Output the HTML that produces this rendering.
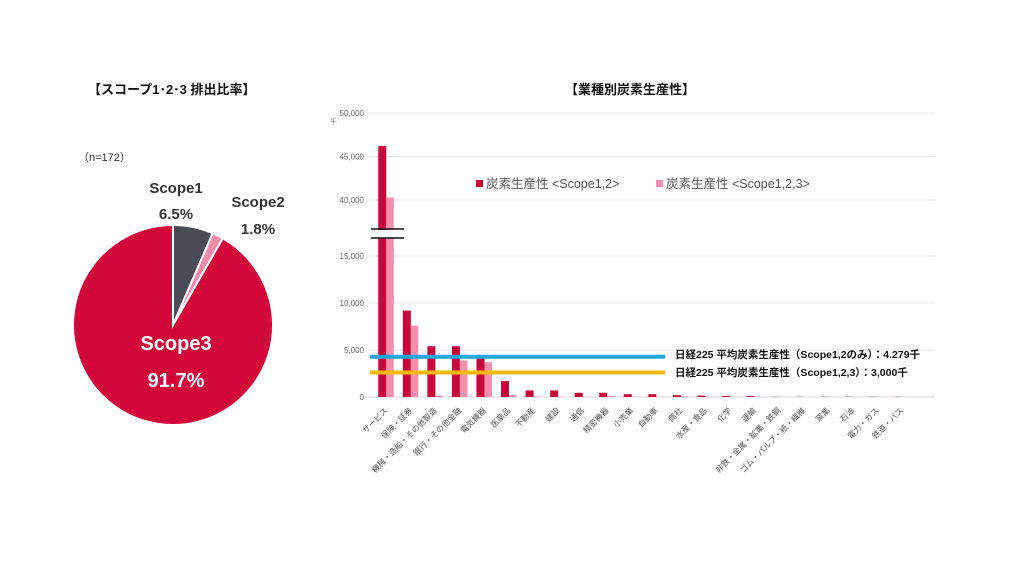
<!DOCTYPE html>
<html><head><meta charset="utf-8"><style>
body{margin:0;background:#fff;width:1010px;height:568px;overflow:hidden;font-family:"Liberation Sans","Noto Sans CJK JP",sans-serif;}
svg text{font-family:"Liberation Sans","Noto Sans CJK JP",sans-serif;}
</style></head><body>
<svg id="s" width="1010" height="568">
<text x="88" y="94" font-size="13" font-weight="bold" fill="#111">【スコープ1･2･3 排出比率】</text>
<text x="565" y="94" font-size="13" font-weight="bold" fill="#111">【業種別炭素生産性】</text>
<text x="78" y="161" font-size="11" fill="#333">（n=172）</text>
<g id="pie"></g>
<g id="bars"></g>
</svg>
<script>
const pieLabels=["Scope1","Scope2","Scope3"];
const pieValues=[6.5,1.8,91.7];
const pieColors=["#4b4b57","#f28aa8","#d4073a"];
const categories=["サービス","保険・証券","機械・造船・その他製造","銀行・その他金融","電気機器","医薬品","不動産","建設","通信","精密機器","小売業","自動車","商社","水産・食品","化学","運輸","非鉄・金属・鉱業・鉄鋼","ゴム・パルプ・紙・繊維","窯業","石油","電力・ガス","鉄道・バス"];
const scope12=[46200,9200,5400,5400,4300,1700,700,700,450,450,300,300,200,150,100,100,20,20,20,20,20,20];
const scope123=[40300,7600,150,3900,3700,200,50,30,20,100,20,30,80,40,30,20,10,10,10,10,10,10];
const lowTicks=[0,5000,10000,15000];
const highTicks=[40000,45000,50000];
const refLabels=["日経225 平均炭素生産性（Scope1,2のみ）：4.279千","日経225 平均炭素生産性（Scope1,2,3）：3,000千"];
const refValues=[4279,2600];
const NS="http://www.w3.org/2000/svg";
function mk(tag,attrs,parent,txt){const e=document.createElementNS(NS,tag);for(const k in attrs)e.setAttribute(k,attrs[k]);if(txt!==undefined)e.textContent=txt;parent.appendChild(e);return e;}
// pie
const pie=document.getElementById('pie');
const cx=173,cy=325,R=100;let a0=-Math.PI/2;const tot=pieValues.reduce((a,b)=>a+b,0);
pieValues.forEach((v,i)=>{const a1=a0+v/tot*2*Math.PI;const big=(a1-a0)>Math.PI?1:0;
const p=mk('path',{d:`M${cx},${cy}L${cx+R*Math.cos(a0)},${cy+R*Math.sin(a0)}A${R},${R} 0 ${big} 1 ${cx+R*Math.cos(a1)},${cy+R*Math.sin(a1)}Z`,fill:pieColors[i],stroke:'#fff','stroke-width':2},pie);


a0=a1;});
const lp=[[176,193,176,219,'#333',15],[258,207,258,234,'#333',15],[176,350,176,387,'#fff',20]];
pieLabels.forEach((l,i)=>{const q=lp[i];
const t=mk('text',{x:q[0],y:q[1],'text-anchor':'middle','font-size':q[5],'font-weight':'bold',fill:q[4]},pie,l);


const t2=mk('text',{x:q[2],y:q[3],'text-anchor':'middle','font-size':q[5],'font-weight':'bold',fill:q[4]},pie,pieValues[i].toFixed(1)+'%');

});
// bars
const g=document.getElementById('bars');
const y0=397,pxLow=47/5000,y40=200,pxHigh=87/10000,brk=234;
function y(v){return v<=20000?y0-v*pxLow:y40-(v-40000)*pxHigh;}
const x0=374,step=24.55,xR=935;
function xc(i){return x0+step*i+step/2;}
lowTicks.concat(highTicks).forEach(t=>{const yy=y(t);
const l=mk('line',{x1:368,x2:xR,y1:yy,y2:yy,stroke:t===0?'#d8d8d8':'#e6e6e6','stroke-width':1},g);

const tx=mk('text',{x:364,y:yy+3,'text-anchor':'end','font-size':8,fill:'#666'},g,t.toLocaleString('en-US'));
});
const unit=mk('text',{x:330,y:124,'font-size':7,fill:'#777'},g,'千');

categories.forEach((c,i)=>{const x=xc(i);
[[scope12[i],'#c8073a',-8],[scope123[i],'#f490ae',0]].forEach((s,k)=>{let top=y(s[0]);
const r=mk('rect',{x:x+s[2],y:top,width:k?7.5:8,height:y0-top,fill:s[1]},g);
});
const t=mk('text',{x:x+2,y:y0+14,'text-anchor':'end','font-size':8,fill:'#555',transform:`rotate(-45 ${x+2} ${y0+14})`},g,c);
});
// axis break
const bk=mk('rect',{x:370,y:brk-4,width:36,height:8,fill:'#fff'},g);
[brk-5,brk+4].forEach(yy=>{const l=mk('line',{x1:371,x2:404,y1:yy,y2:yy,stroke:'#111','stroke-width':1.5},g);});
// ref lines
const rc=['#1ea7e1','#f6b810'];
refValues.forEach((v,i)=>{const yy=y(v);
const l=mk('line',{x1:370,x2:665,y1:yy,y2:yy,stroke:rc[i],'stroke-width':4},g);

const t=mk('text',{x:675,y:358+i*18,'font-size':10.5,'font-weight':'bold',fill:'#111'},g,refLabels[i]);
});
// legend
[[476,'#c8073a','炭素生産性 <Scope1,2>'],[656,'#f490ae','炭素生産性 <Scope1,2,3>']].forEach((L,i)=>{
const r=mk('rect',{x:L[0],y:180,width:7,height:7,fill:L[1]},g);
const t=mk('text',{x:L[0]+10,y:188,'font-size':12.5,fill:'#555'},g,L[2]);});
</script>
</body></html>
